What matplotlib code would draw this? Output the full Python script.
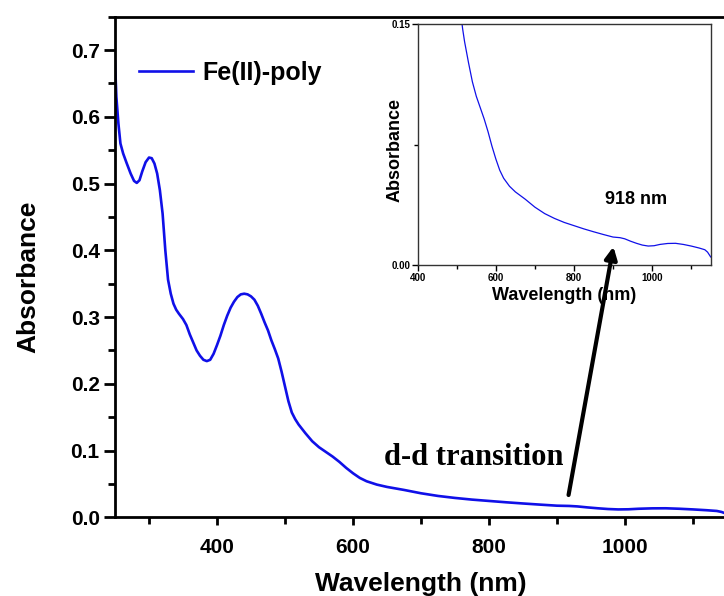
import matplotlib
matplotlib.use("Agg")
import matplotlib.pyplot as plt
from matplotlib.ticker import MultipleLocator

# ---- data ----
wavelength = [250, 252, 255, 258, 262, 267, 273, 278, 282, 286, 290, 295, 300, 304,
              308, 312, 316, 320, 324, 328, 332, 336, 340, 344, 350, 355, 360, 365,
              370, 375, 380, 385, 390, 395, 400, 405, 410, 415, 420, 425, 430, 435,
              440, 445, 450, 455, 460, 465, 470, 475, 480, 485, 490, 495, 500, 505,
              510, 515, 520, 530, 540, 550, 560, 570, 580, 590, 600, 610, 620, 635,
              650, 675, 700, 725, 750, 775, 800, 825, 850, 875, 900, 918, 930, 945,
              960, 975, 990, 1005, 1020, 1040, 1060, 1080, 1100, 1120, 1135, 1142, 1150]
absorbance = [0.683, 0.630, 0.590, 0.560, 0.545, 0.531, 0.515, 0.504, 0.501, 0.505,
              0.518, 0.532, 0.539, 0.538, 0.530, 0.515, 0.490, 0.455, 0.400, 0.356,
              0.335, 0.320, 0.311, 0.305, 0.297, 0.288, 0.274, 0.262, 0.250, 0.242,
              0.236, 0.234, 0.236, 0.245, 0.258, 0.272, 0.288, 0.302, 0.314, 0.323,
              0.330, 0.334, 0.335, 0.334, 0.331, 0.326, 0.317, 0.305, 0.292, 0.280,
              0.265, 0.252, 0.238, 0.218, 0.196, 0.174, 0.157, 0.147, 0.139, 0.126,
              0.114, 0.105, 0.098, 0.091, 0.083, 0.074, 0.066, 0.059, 0.054, 0.049,
              0.0455, 0.041, 0.036, 0.032, 0.029, 0.0265, 0.0245, 0.0225, 0.0207, 0.019,
              0.0174, 0.0170, 0.0163, 0.0148, 0.0135, 0.0124, 0.0118, 0.0120, 0.0128,
              0.0134, 0.0135, 0.0128, 0.0118, 0.0106, 0.0095, 0.0080, 0.0050]
series_label = "Fe(II)-poly"
main_xticks = [400, 600, 800, 1000]
main_yticks = [0.0, 0.1, 0.2, 0.3, 0.4, 0.5, 0.6, 0.7]
inset_xticks = [400, 600, 800, 1000]
inset_yticks = [0.00, 0.15]
peak_label = "918 nm"
annotation_text = "d-d transition"

SANS = ["Liberation Sans", "DejaVu Sans"]
SERIF = ["Liberation Serif", "DejaVu Serif"]
plt.rcParams["font.family"] = SANS
plt.rcParams["font.weight"] = "bold"

fig = plt.figure(figsize=(7.24, 5.96), dpi=100)
W, H = 724, 596

def px_axes(l, t, r, b):
    return [l / W, (H - b) / H, (r - l) / W, (b - t) / H]

# ---- main axes ----
ax = fig.add_axes(px_axes(115, 16.7, 727, 517.3))
line_color = "#1010e8"
ax.plot(wavelength, absorbance, color=line_color, lw=1.9, label=series_label)
ax.set_xlim(250, 1150)
ax.set_ylim(0, 0.75)
ax.set_xticks(main_xticks)
ax.set_yticks(main_yticks)
ax.set_yticklabels([f"{v:.1f}" for v in main_yticks])
ax.xaxis.set_minor_locator(MultipleLocator(100))
ax.yaxis.set_minor_locator(MultipleLocator(0.05))
for s in ["left", "bottom", "top"]:
    ax.spines[s].set_linewidth(2.0)
ax.spines["right"].set_visible(False)
ax.tick_params(axis="y", which="major", direction="out", length=8, width=2,
               labelsize=15, pad=3)
ax.tick_params(axis="y", which="minor", direction="out", length=5, width=2)
ax.tick_params(axis="x", which="major", direction="out", length=6, width=2,
               labelsize=15, pad=9)
ax.tick_params(axis="x", which="minor", direction="out", length=5, width=2)
for lab in ax.get_xticklabels() + ax.get_yticklabels():
    lab.set_fontweight("bold")
ax.set_xlabel("Wavelength (nm)", fontsize=19, fontweight="bold", labelpad=11)
ax.set_ylabel("Absorbance", fontsize=19, fontweight="bold")
ax.yaxis.set_label_coords(-0.122, 0.48)

leg = ax.legend(loc="center left", bbox_to_anchor=(0.04, 0.888), frameon=False,
                fontsize=18, handlelength=2.15, handletextpad=0.35,
                borderpad=0, borderaxespad=0)
for t in leg.get_texts():
    t.set_fontweight("bold")

ax.text(646, 0.089, annotation_text, fontsize=22, fontweight="bold",
        family=SERIF, va="center", ha="left")

# ---- inset ----
ax_in = fig.add_axes(px_axes(417.7, 24, 710.7, 265))
ax_in.plot(wavelength, absorbance, color=line_color, lw=0.9)
ax_in.set_xlim(400, 1150)
ax_in.set_ylim(0, 0.15)
ax_in.set_xticks(inset_xticks)
ax_in.set_yticks(inset_yticks)
ax_in.set_yticklabels([f"{v:.2f}" for v in inset_yticks])
ax_in.xaxis.set_minor_locator(MultipleLocator(100))
ax_in.yaxis.set_minor_locator(MultipleLocator(0.075))
for s in ax_in.spines.values():
    s.set_linewidth(1.0)
    s.set_color("#333333")
ax_in.tick_params(which="major", direction="out", length=4, width=1,
                  labelsize=7, pad=1.5)
ax_in.tick_params(which="minor", direction="out", length=3, width=1)
for lab in ax_in.get_xticklabels() + ax_in.get_yticklabels():
    lab.set_fontweight("bold")
ax_in.set_xlabel("Wavelength (nm)", fontsize=13, fontweight="bold", labelpad=3)
ax_in.set_ylabel("Absorbance", fontsize=13, fontweight="bold")
ax_in.yaxis.set_label_coords(-0.05, 0.477)
ax_in.text(879, 0.0405, peak_label, fontsize=13, fontweight="bold",
           va="center", ha="left")

# arrow from main plot into inset
ax_in.annotate("", xy=(901, 0.0114), xycoords="data",
               xytext=(917, 0.0334), textcoords=ax.transData,
               arrowprops=dict(arrowstyle="-|>", color="black", lw=3,
                               mutation_scale=18, shrinkA=0, shrinkB=0),
               annotation_clip=False)

fig.savefig("out.png", dpi=100)
